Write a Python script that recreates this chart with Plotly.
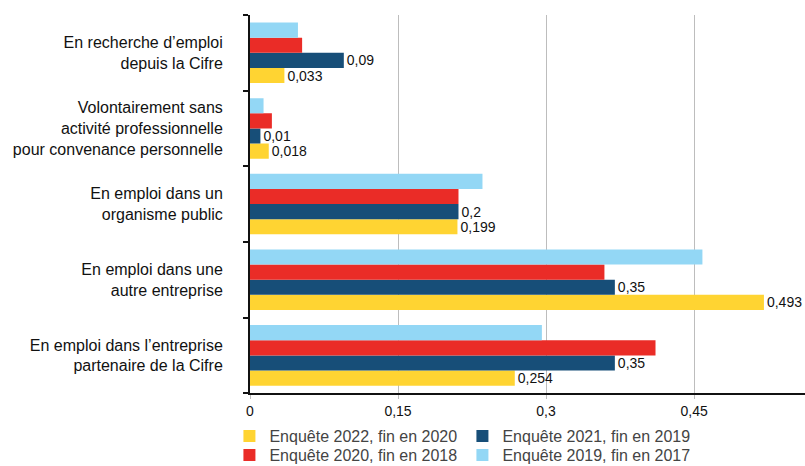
import plotly.graph_objects as go

categories = [
    "En emploi dans l’entreprise<br>partenaire de la Cifre",
    "En emploi dans une<br>autre entreprise",
    "En emploi dans un<br>organisme public",
    "Volontairement sans<br>activité professionnelle<br>pour convenance personnelle",
    "En recherche d’emploi<br>depuis la Cifre",
]

# bottom to top, same order as categories
enq_2022 = [0.254, 0.493, 0.199, 0.018, 0.033]
enq_2021 = [0.35, 0.35, 0.2, 0.01, 0.09]
enq_2020 = [0.389, 0.34, 0.2, 0.021, 0.05]
enq_2019 = [0.28, 0.434, 0.223, 0.013, 0.046]

labels_2022 = ["0,254", "0,493", "0,199", "0,018", "0,033"]
labels_2021 = ["0,35", "0,35", "0,2", "0,01", "0,09"]

tick_pos = [0, 0.142, 0.284, 0.426]
tick_text = ["0", "0,15", "0,3", "0,45"]

series = [
    ("Enquête 2022, fin en 2020", enq_2022, labels_2022, "#FFD432", "legend"),
    ("Enquête 2021, fin en 2019", enq_2021, labels_2021, "#174E78", "legend"),
    ("Enquête 2020, fin en 2018", enq_2020, None, "#EA2C27", "legend2"),
    ("Enquête 2019, fin en 2017", enq_2019, None, "#93D7F5", "legend2"),
]

fig = go.Figure()
for name, vals, txt, col, leg in series:
    fig.add_trace(go.Bar(
        y=categories, x=vals, name=name, orientation="h",
        marker=dict(color=col, line=dict(width=0)),
        text=txt, textposition="outside" if txt else "none",
        textfont=dict(size=14, color="#111"),
        constraintext="none", cliponaxis=False,
        hoverinfo="x+name", legend=leg,
    ))

leg_style = dict(
    orientation="h", traceorder="normal",
    xref="container", yref="container", xanchor="left", yanchor="middle",
    entrywidth=188, entrywidthmode="pixels",
    font=dict(size=16, color="#444"),
    itemwidth=30, bgcolor="rgba(0,0,0,0)",
)

fig.update_layout(
    width=805, height=466,
    barmode="group", bargap=0.2, bargroupgap=0,
    plot_bgcolor="white", paper_bgcolor="white",
    margin=dict(l=250, r=0, t=15, b=68),
    font=dict(family="Liberation Sans, Arial, sans-serif", size=14, color="#111"),
    legend=dict(x=0.285, y=1 - 436 / 466, **leg_style),
    legend2=dict(x=0.285, y=1 - 455 / 466, **leg_style),
)
fig.update_xaxes(
    range=[0, 0.5324], tickvals=tick_pos, ticktext=tick_text,
    showgrid=True, gridcolor="#bdbdbd", gridwidth=1, zeroline=False,
    showline=True, linecolor="#111", linewidth=2,
    ticks="outside", ticklen=4, tickcolor="#bdbdbd",
    tickfont=dict(size=14, color="#111"),
)
fig.update_yaxes(
    automargin=False,
    showline=True, linecolor="#111", linewidth=2,
    ticks="outside", ticklen=5, tickcolor="#111", tickwidth=2,
    tickson="boundaries", ticklabelstandoff=22,
    tickfont=dict(size=16, color="#111"),
)

# the page has a default 8px body margin; drop it so the figure fills the window
fig.write_html("out.html", config={"displayModeBar": False},
               post_script="document.body.style.margin='0';")
